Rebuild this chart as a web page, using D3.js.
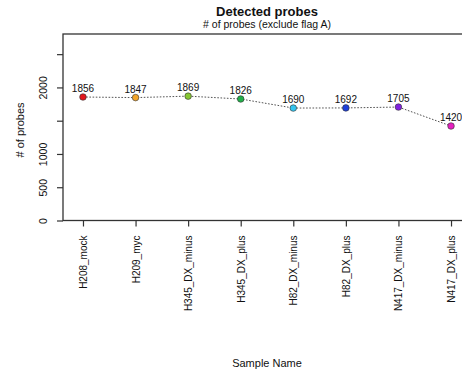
<!DOCTYPE html>
<html><head><meta charset="utf-8">
<script src="https://cdn.jsdelivr.net/npm/d3@7"></script>
<style>
html,body{margin:0;padding:0;background:#fff;}
svg{display:block;font-family:"Liberation Sans",Arial,sans-serif;}
</style></head>
<body>
<svg id="c" width="462" height="381"></svg>
<script>
const samples = ["H208_mock","H209_myc","H345_DX_minus","H345_DX_plus","H82_DX_minus","H82_DX_plus","N417_DX_minus","N417_DX_plus"];
const probes = [1856,1847,1869,1826,1690,1692,1705,1420];
const colors = ["#e3171d","#f3a52a","#86c733","#23b04a","#35c5ef","#1e40dc","#8022df","#e520bf"];
const yTicks = [0,500,1000,1500,2000,2500];
const yTickLabels = ["0","500","1000","","2000",""];
const yMax = 2803;
const title = "Detected probes";
const subtitle = "# of probes (exclude flag A)";
const xTitle = "Sample Name";
const yTitle = "# of probes";

const svg = d3.select("#c");
const x = d3.scalePoint().domain(samples).range([63,471]).padding(0.38);
const y = d3.scaleLinear().domain([0,yMax]).range([220.5,34]);

// box
svg.append("rect").attr("x",63).attr("y",34).attr("width",420).attr("height",186.5)
  .attr("fill","none").attr("stroke","#333").attr("stroke-width",1.3);

// y axis
const ya = svg.append("g").attr("transform","translate(63,0)")
  .call(d3.axisLeft(y).tickValues(yTicks).tickSize(6).tickFormat((d,i)=>yTickLabels[i]));
ya.select(".domain").remove();
ya.selectAll(".tick line").attr("stroke","#333").attr("stroke-width",1.2);
ya.selectAll(".tick text").attr("font-size",10.5).attr("fill","#111")
  .attr("transform","rotate(-90)").attr("text-anchor","middle")
  .attr("x",0).attr("y",-16.5).attr("dy",0);

// x axis
const xa = svg.append("g").attr("transform","translate(0,220.5)")
  .call(d3.axisBottom(x).tickSize(6));
xa.select(".domain").remove();
xa.selectAll(".tick line").attr("stroke","#333").attr("stroke-width",1.2);
xa.selectAll(".tick text").attr("font-size",10).attr("fill","#111")
  .attr("transform","rotate(-90)").attr("text-anchor","end")
  .attr("x",-15).attr("y",0).attr("dy","0.35em");

// dotted line
svg.append("path").datum(probes)
  .attr("d", d3.line().x((d,i)=>x(samples[i])).y(d=>y(d)))
  .attr("fill","none").attr("stroke","#555").attr("stroke-width",1)
  .attr("stroke-dasharray","1.6,1.6");

// points
svg.selectAll("circle.pt").data(probes).join("circle").attr("class","pt")
  .attr("cx",(d,i)=>x(samples[i])).attr("cy",d=>y(d)).attr("r",3.3)
  .attr("fill",(d,i)=>colors[i]).attr("stroke","#333").attr("stroke-width",0.6);

// value labels
svg.selectAll("text.val").data(probes).join("text").attr("class","val")
  .attr("x",(d,i)=>x(samples[i])).attr("y",d=>y(d)-5)
  .attr("text-anchor","middle").attr("font-size",10).attr("fill","#111")
  .text(d=>d);

// titles
svg.append("text").attr("x",267).attr("y",16).attr("text-anchor","middle")
  .attr("font-size",13).attr("font-weight","bold").attr("fill","#111").text(title);
svg.append("text").attr("x",267).attr("y",27.5).attr("text-anchor","middle")
  .attr("font-size",10.5).attr("fill","#111").text(subtitle);
svg.append("text").attr("x",267).attr("y",367).attr("text-anchor","middle")
  .attr("font-size",11).attr("fill","#111").text(xTitle);
svg.append("text").attr("transform","translate(24,130) rotate(-90)").attr("text-anchor","middle")
  .attr("font-size",11).attr("fill","#111").text(yTitle);
</script>
</body></html>
